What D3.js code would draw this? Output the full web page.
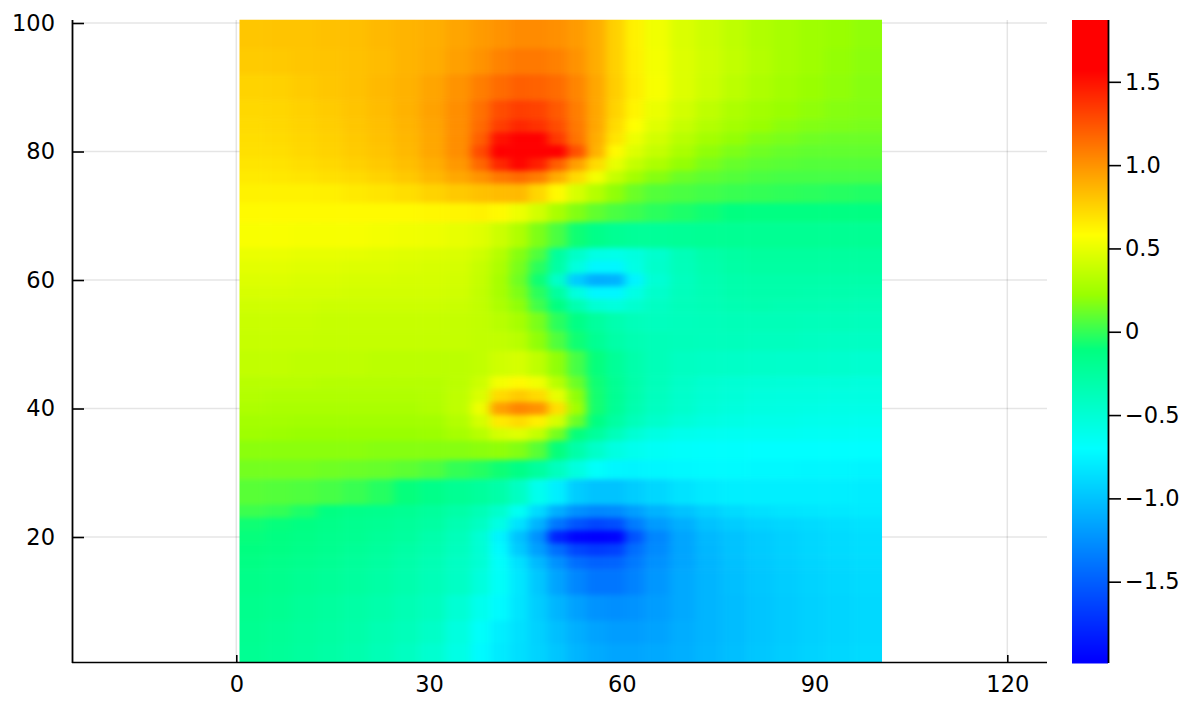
<!DOCTYPE html>
<html>
<head>
<meta charset="utf-8">
<script src="https://cdn.jsdelivr.net/npm/d3@7"></script>
<style>
html,body{margin:0;padding:0;background:#fff}
text{font-family:"DejaVu Sans",sans-serif;font-size:22.5px;fill:#000}
</style>
</head>
<body>
<svg id="chart" width="1188" height="708"></svg>
<script>
const xTicks = [0,30,60,90,120];
const yTicks = [20,40,60,80,100];
const barTicks = [-1.5,-1,-0.5,0,0.5,1,1.5];
const barTickLabels = ["\u22121.5","\u22121.0","\u22120.5","0","0.5","1.0","1.5"];
const valueMin = -1.985, valueMax = 1.871;
const colorValues = [-1.97,-0.7,-0.11,0.22,0.58,1.57];
const colorNames = ["#0000ff","#00ffff","#00ff80","#99ff00","#ffff00","#ff0000"];
const colEdges = [0.5,4.5,8.5,12.5,16.5,20.5,24.5,28.5,32.5,36.5,39.5,42.5,45.5,48.5,51.5,54.5,57.5,60.5,63.5,67.5,71.5,75.5,79.5,83.5,87.5,91.5,96,100.5];
const rowEdges = [100.5,96,92,88,85,83,81,79,77,75,72,69,65,63,61,59,57,55,52,49,45,43,41,39,37,35,32,29,25,23,21,19,17,15,11,7,3.5,0.5];
const cellValues = [
[.8,.81,.81,.82,.83,.85,.87,.89,.93,.97,1.0,1.03,1.03,1.01,.97,.9,.76,.63,.53,.45,.4,.35,.3,.27,.24,.22,.2],
[.78,.79,.8,.81,.82,.84,.87,.9,.95,1.0,1.06,1.1,1.1,1.07,1.0,.9,.76,.64,.54,.46,.41,.36,.31,.27,.24,.21,.19],
[.75,.76,.78,.8,.82,.85,.88,.93,1.0,1.08,1.15,1.2,1.19,1.15,1.05,.92,.77,.65,.55,.46,.4,.34,.29,.25,.22,.2,.18],
[.73,.74,.76,.78,.81,.84,.88,.94,1.02,1.13,1.27,1.33,1.31,1.22,1.08,.92,.75,.62,.51,.42,.35,.29,.25,.22,.2,.18,.17],
[.72,.73,.75,.77,.8,.83,.87,.93,1.02,1.16,1.33,1.42,1.38,1.27,1.1,.92,.72,.58,.47,.38,.31,.26,.22,.19,.17,.16,.15],
[.71,.72,.74,.76,.79,.82,.86,.92,1.02,1.2,1.5,1.62,1.58,1.35,1.12,.9,.68,.52,.42,.33,.26,.21,.17,.15,.13,.12,.12],
[.7,.71,.73,.75,.78,.81,.85,.92,1.02,1.28,1.72,1.87,1.87,1.65,1.25,.88,.6,.46,.37,.28,.2,.16,.13,.11,.1,.1,.1],
[.68,.69,.71,.73,.76,.79,.83,.89,.98,1.17,1.42,1.55,1.45,1.2,.95,.72,.5,.37,.29,.21,.15,.11,.09,.08,.07,.07,.07],
[.66,.67,.68,.7,.72,.75,.79,.85,.92,1.0,1.1,1.15,1.08,.9,.72,.54,.38,.26,.18,.12,.09,.07,.05,.04,.04,.04,.04],
[.63,.63,.63,.64,.66,.68,.71,.75,.79,.82,.84,.85,.74,.6,.44,.32,.2,.12,.07,.05,.03,.01,0,-.01,-.02,-.03,-.04],
[.6,.6,.6,.6,.6,.6,.6,.61,.62,.63,.6,.52,.42,.28,.17,.1,.05,.02,-.02,-.05,-.08,-.11,-.12,-.12,-.12,-.12,-.12],
[.56,.56,.55,.55,.55,.54,.53,.52,.5,.47,.4,.3,.16,.05,-.08,-.15,-.2,-.22,-.22,-.21,-.2,-.2,-.2,-.2,-.2,-.2,-.2],
[.51,.51,.5,.5,.49,.48,.47,.46,.45,.41,.32,.18,.06,-.25,-.45,-.58,-.6,-.55,-.47,-.37,-.3,-.27,-.25,-.25,-.25,-.25,-.25],
[.48,.48,.47,.47,.46,.46,.45,.44,.43,.38,.29,.15,-.02,-.28,-.55,-.74,-.74,-.58,-.46,-.38,-.32,-.28,-.27,-.27,-.27,-.27,-.27],
[.46,.46,.45,.45,.44,.44,.43,.43,.42,.37,.27,.13,-.08,-.45,-.95,-1.1,-1.08,-.75,-.5,-.4,-.34,-.31,-.3,-.3,-.3,-.3,-.3],
[.44,.44,.43,.43,.42,.42,.42,.42,.41,.36,.27,.16,-.02,-.26,-.55,-.74,-.74,-.58,-.46,-.39,-.35,-.32,-.31,-.31,-.32,-.32,-.33],
[.41,.41,.41,.4,.4,.4,.4,.4,.39,.36,.29,.2,.03,-.12,-.34,-.5,-.54,-.48,-.42,-.38,-.36,-.34,-.33,-.34,-.34,-.35,-.36],
[.39,.39,.39,.38,.38,.38,.38,.38,.37,.36,.33,.27,.15,-.02,-.14,-.25,-.33,-.38,-.4,-.39,-.38,-.37,-.37,-.37,-.38,-.38,-.39],
[.38,.38,.38,.37,.37,.37,.37,.37,.37,.36,.36,.33,.2,.06,-.08,-.2,-.29,-.34,-.37,-.38,-.39,-.39,-.4,-.4,-.41,-.42,-.42],
[.36,.36,.35,.35,.35,.34,.34,.34,.34,.36,.41,.43,.35,.2,.04,-.1,-.22,-.31,-.37,-.41,-.43,-.44,-.45,-.46,-.46,-.47,-.48],
[.33,.33,.33,.32,.32,.32,.32,.32,.34,.4,.54,.6,.53,.33,.12,-.08,-.2,-.3,-.38,-.44,-.48,-.5,-.51,-.52,-.53,-.53,-.54],
[.31,.3,.3,.3,.3,.3,.3,.31,.35,.45,.72,.78,.72,.5,.2,-.07,-.2,-.31,-.4,-.46,-.5,-.52,-.54,-.55,-.55,-.56,-.56],
[.29,.28,.28,.28,.28,.28,.28,.3,.35,.52,.95,1.05,1.0,.7,.25,-.07,-.21,-.33,-.41,-.47,-.52,-.54,-.56,-.57,-.58,-.59,-.59],
[.26,.26,.25,.25,.25,.25,.25,.26,.31,.43,.66,.72,.64,.43,.12,-.12,-.27,-.38,-.46,-.52,-.56,-.58,-.6,-.6,-.61,-.61,-.62],
[.24,.23,.22,.22,.22,.22,.22,.23,.27,.33,.43,.47,.37,.14,-.1,-.24,-.38,-.5,-.57,-.61,-.63,-.64,-.64,-.64,-.65,-.65,-.66],
[.19,.19,.19,.19,.19,.18,.18,.18,.18,.19,.2,.17,.08,-.1,-.3,-.45,-.56,-.62,-.66,-.68,-.69,-.69,-.7,-.7,-.7,-.7,-.7],
[.14,.14,.14,.13,.12,.11,.09,.06,0,-.03,-.08,-.14,-.25,-.4,-.55,-.68,-.74,-.75,-.74,-.73,-.72,-.72,-.73,-.73,-.74,-.74,-.75],
[.08,.07,.06,.04,.01,-.03,-.1,-.15,-.2,-.24,-.3,-.42,-.62,-.78,-.95,-1.0,-1.0,-.95,-.9,-.84,-.8,-.78,-.78,-.78,-.78,-.78,-.79],
[.02,0,-.05,-.12,-.15,-.17,-.2,-.24,-.29,-.36,-.47,-.65,-.88,-1.1,-1.25,-1.3,-1.28,-1.18,-1.08,-1.0,-.93,-.88,-.85,-.83,-.82,-.81,-.8],
[-.08,-.1,-.12,-.15,-.18,-.2,-.23,-.27,-.34,-.42,-.58,-.84,-1.08,-1.38,-1.55,-1.62,-1.58,-1.35,-1.2,-1.1,-1.0,-.95,-.92,-.9,-.88,-.86,-.84],
[-.1,-.12,-.14,-.17,-.19,-.22,-.25,-.31,-.38,-.5,-.75,-1.0,-1.25,-1.8,-1.95,-1.97,-1.95,-1.55,-1.3,-1.15,-1.05,-1.0,-.96,-.93,-.9,-.88,-.86],
[-.11,-.13,-.15,-.18,-.21,-.24,-.28,-.33,-.4,-.5,-.72,-.96,-1.18,-1.42,-1.62,-1.68,-1.65,-1.42,-1.28,-1.15,-1.06,-1.0,-.96,-.93,-.9,-.88,-.86],
[-.13,-.15,-.17,-.2,-.23,-.26,-.3,-.35,-.42,-.5,-.68,-.85,-1.05,-1.25,-1.42,-1.48,-1.47,-1.36,-1.25,-1.15,-1.07,-1.01,-.97,-.94,-.91,-.89,-.87],
[-.15,-.17,-.2,-.22,-.25,-.28,-.32,-.37,-.43,-.54,-.67,-.82,-.98,-1.16,-1.3,-1.38,-1.38,-1.32,-1.22,-1.13,-1.07,-1.02,-.98,-.95,-.92,-.9,-.88],
[-.17,-.19,-.22,-.25,-.28,-.31,-.35,-.4,-.5,-.62,-.72,-.83,-.95,-1.07,-1.17,-1.24,-1.26,-1.24,-1.19,-1.13,-1.07,-1.03,-.99,-.96,-.93,-.91,-.89],
[-.19,-.21,-.24,-.27,-.3,-.34,-.38,-.44,-.55,-.68,-.78,-.85,-.93,-1.02,-1.1,-1.16,-1.19,-1.19,-1.16,-1.11,-1.07,-1.03,-.99,-.96,-.93,-.91,-.89],
[-.2,-.22,-.25,-.28,-.32,-.36,-.41,-.48,-.58,-.72,-.8,-.86,-.92,-.99,-1.07,-1.12,-1.15,-1.15,-1.13,-1.1,-1.06,-1.02,-.98,-.95,-.92,-.9,-.88]
];

const svg = d3.select("#chart");
const x = d3.scaleLinear().domain([-25.57,126.18]).range([72,1047]);
const y = d3.scaleLinear().domain([0.5,100.5]).range([662.3,19.8]);
const color = d3.scaleLinear().domain(colorValues).range(colorNames).clamp(true);
const barY = d3.scaleLinear().domain([valueMin,valueMax]).range([662.5,20]);

const GRID = "rgba(0,0,0,0.1)";
const gridG = svg.append("g");
gridG.selectAll(".gx").data(xTicks).join("line")
  .attr("x1",d=>x(d)).attr("x2",d=>x(d)).attr("y1",20).attr("y2",662)
  .attr("stroke",GRID).attr("stroke-width",1.5);
gridG.selectAll(".gy").data(yTicks).join("line")
  .attr("y1",d=>y(d)).attr("y2",d=>y(d)).attr("x1",72).attr("x2",1047)
  .attr("stroke",GRID).attr("stroke-width",1.5);

function styleAxis(g){
  g.select(".domain").remove();
  g.selectAll(".tick line").attr("stroke","#000").attr("stroke-width",1.6);
  g.selectAll(".tick text").attr("fill","#000").style("font-size","22.5px").style("font-family","'DejaVu Sans',sans-serif");
}
svg.append("g").attr("transform","translate(0,662)")
  .call(d3.axisBottom(x).tickValues(xTicks).tickSize(-7).tickPadding(14).tickFormat(d3.format("d")))
  .call(styleAxis);
svg.append("g").attr("transform","translate(72,0)")
  .call(d3.axisLeft(y).tickValues(yTicks).tickSize(-12).tickPadding(17).tickFormat(d3.format("d")))
  .call(styleAxis);

const defs = svg.append("defs");
defs.append("clipPath").attr("id","frame").append("rect")
  .attr("x",x(0.5)).attr("y",y(100.5)).attr("width",x(100.5)-x(0.5)).attr("height",y(0.5)-y(100.5));
defs.append("filter").attr("id","soft").attr("filterUnits","userSpaceOnUse")
  .attr("x",180).attr("y",-40).attr("width",770).attr("height",770)
  .attr("color-interpolation-filters","sRGB")
  .append("feGaussianBlur").attr("stdDeviation","5 2.4");

const PAD = 30;
const cells = cellValues.flatMap((row,r)=>row.map((v,c)=>({r,c,v})));
svg.append("g").attr("clip-path","url(#frame)")
  .append("g").attr("filter","url(#soft)")
  .selectAll("rect").data(cells).join("rect")
  .attr("x",d=>x(colEdges[d.c])-(d.c===0?PAD:0))
  .attr("y",d=>y(rowEdges[d.r])-(d.r===0?PAD:0))
  .attr("width",d=>x(colEdges[d.c+1])-x(colEdges[d.c])+(d.c===0||d.c===colEdges.length-2?PAD:0)+0.5)
  .attr("height",d=>y(rowEdges[d.r+1])-y(rowEdges[d.r])+(d.r===0||d.r===rowEdges.length-2?PAD:0)+0.5)
  .attr("fill",d=>color(d.v));

// spines
svg.append("line").attr("x1",72.5).attr("x2",72.5).attr("y1",20).attr("y2",663).attr("stroke","#000").attr("stroke-width",1.8);
svg.append("line").attr("x1",72).attr("x2",1047).attr("y1",662.5).attr("y2",662.5).attr("stroke","#000").attr("stroke-width",1.6);

// colour bar
const barSteps = d3.range(0,643);
svg.append("g").selectAll("rect").data(barSteps).join("rect")
  .attr("x",1072).attr("width",36)
  .attr("y",d=>20+d).attr("height",1.5)
  .attr("fill",d=>color(barY.invert(20+d+0.5)));
svg.append("line").attr("x1",1108.5).attr("x2",1108.5).attr("y1",20).attr("y2",663).attr("stroke","#000").attr("stroke-width",1.8);
svg.append("g").attr("transform","translate(1108,0)")
  .call(d3.axisRight(barY).tickValues(barTicks).tickSize(13).tickPadding(4).tickFormat((d,i)=>barTickLabels[i]))
  .call(styleAxis);
</script>
</body>
</html>
